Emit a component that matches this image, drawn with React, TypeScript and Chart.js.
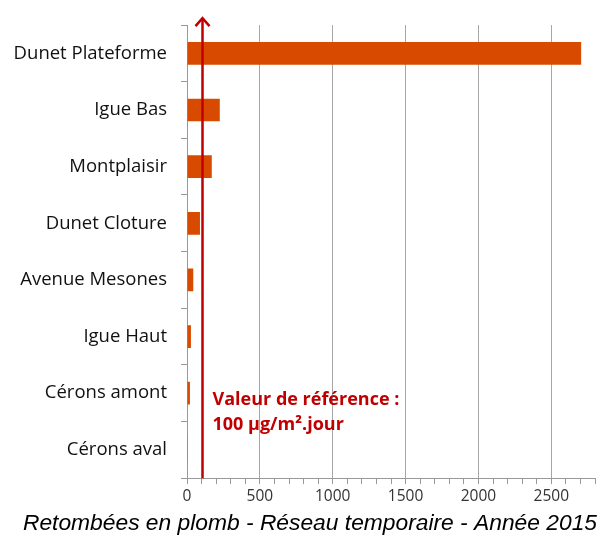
import React, { useEffect, useRef } from "react";
import { Chart, registerables } from "chart.js";

Chart.register(...registerables);

const categories = [
  "Dunet Plateforme",
  "Igue Bas",
  "Montplaisir",
  "Dunet Cloture",
  "Avenue Mesones",
  "Igue Haut",
  "Cérons amont",
  "Cérons aval",
];
const values = [2705, 225, 170, 89, 43, 27, 20, 5];
const referenceValue = 100;
const referenceLines = ["Valeur de référence :", "100 µg/m².jour"];
const xMax = 2800;
const titleText = "Retombées en plomb - Réseau temporaire - Année 2015";

const refPlugin = {
  id: "refLine",
  afterDatasetsDraw(chart: any) {
    const { ctx, chartArea, scales } = chart;
    const x = Math.round(scales.x.getPixelForValue(referenceValue)) + 0.5;
    const top = chartArea.top - 7;
    ctx.save();
    ctx.strokeStyle = "#c00000";
    ctx.lineWidth = 2.5;
    ctx.beginPath();
    ctx.moveTo(x, chartArea.bottom);
    ctx.lineTo(x, top);
    ctx.stroke();
    ctx.beginPath();
    ctx.moveTo(x - 7, top + 8);
    ctx.lineTo(x, top);
    ctx.lineTo(x + 7, top + 8);
    ctx.stroke();
    ctx.fillStyle = "#c00000";
    ctx.font = "bold 18px 'Open Sans'";
    ctx.textAlign = "left";
    ctx.textBaseline = "middle";
    referenceLines.forEach((t, i) => {
      ctx.fillText(t, x + 10, 400 + i * 25);
    });
    ctx.restore();
  },
};

export default function App() {
  const ref = useRef<HTMLCanvasElement>(null);
  useEffect(() => {
    if (!ref.current) return;
    const chart = new Chart(ref.current, {
      type: "bar",
      data: {
        labels: categories,
        datasets: [
          {
            data: values,
            backgroundColor: "#d84a00",
            borderWidth: 0,
            categoryPercentage: 0.4,
            barPercentage: 1,
          },
        ],
      },
      options: {
        indexAxis: "y",
        animation: false,
        responsive: false,
        layout: { padding: { top: 20, right: 1, left: 0, bottom: 0 } },
        plugins: {
          legend: { display: false },
          tooltip: { enabled: false },
          title: {
            display: true,
            text: titleText,
            position: "bottom",
            align: "end",
            color: "#000",
            font: { family: "'Liberation Sans'", size: 22.8, style: "italic", weight: "normal" },
            padding: { top: 0, bottom: 0 },
          },
        },
        scales: {
          x: {
            min: 0,
            max: xMax,
            afterFit(scale: any) {
              scale.height = 31.5;
            },
            ticks: {
              stepSize: 100,
              autoSkip: false,
              maxRotation: 0,
              padding: 3,
              color: "#333",
              font: { family: "'Open Sans'", size: 15.5 },
              callback: (v: any) => (Number(v) % 500 === 0 ? String(v) : ""),
            },
            grid: {
              color: (c: any) =>
                c.tick && c.tick.value % 500 === 0 && c.tick.value > 0 ? "#a6a6a6" : "rgba(0,0,0,0)",
              tickColor: "#999",
              tickLength: 6,
              lineWidth: 1,
            },
            border: { display: true, color: "#999" },
          },
          y: {
            afterFit(scale: any) {
              scale.width = 187;
            },
            ticks: {
              color: "#111",
              padding: 14,
              font: { family: "'Open Sans'", size: 18.5 },
            },
            grid: {
              offset: true,
              drawOnChartArea: false,
              tickColor: "#999",
              tickLength: 6,
            },
            border: { display: true, color: "#999" },
          },
        },
      },
      plugins: [refPlugin],
    });
    return () => chart.destroy();
  }, []);
  return (
    <div style={{ position: "fixed", left: 0, top: 0, width: 598, height: 537, background: "#fff" }}>
      <canvas ref={ref} width={598} height={537} style={{ width: 598, height: 537 }} />
    </div>
  );
}
